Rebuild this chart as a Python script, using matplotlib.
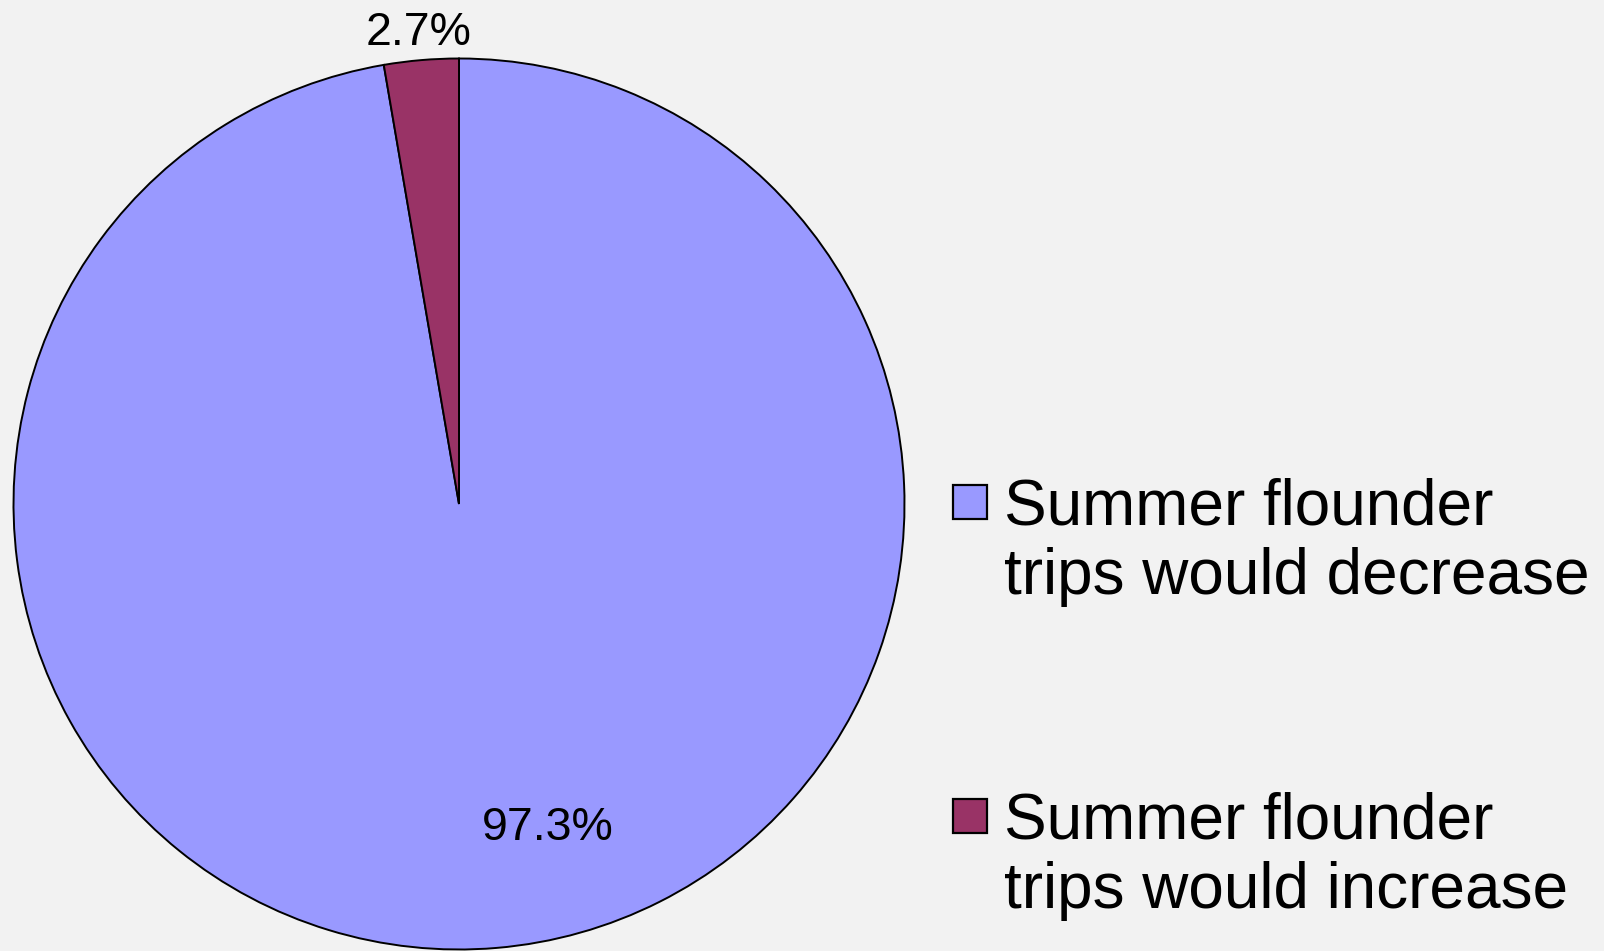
import matplotlib
matplotlib.use("Agg")
import matplotlib.pyplot as plt
from matplotlib.patches import Rectangle

categories = ["Summer flounder\ntrips would decrease", "Summer flounder\ntrips would increase"]
values = [97.3, 2.7]
pct_labels = ["97.3%", "2.7%"]
colors = ["#9999FF", "#993366"]

W, H, DPI = 1604, 951, 100
BG = "#F2F2F2"
plt.rcParams['font.family'] = ['Liberation Sans', 'DejaVu Sans']

fig = plt.figure(figsize=(W / DPI, H / DPI), dpi=DPI, facecolor=BG)
ax = fig.add_axes([0, 0, 1, 1])
ax.set_facecolor(BG)
ax.axis('off')

cx, cy, R = 459.0, 504.0, 445.5  # pixels from top-left
wedges, _ = ax.pie(values, colors=colors, startangle=90, counterclock=False,
                   radius=1.0, wedgeprops=dict(edgecolor='black', linewidth=1.4))
ax.set_xlim(-cx / R, (W - cx) / R)
ax.set_ylim(-(H - cy) / R, cy / R)
ax.set_aspect('auto')

def px(x, y):
    return ((x - cx) / R, (cy - y) / R)

# percentage labels
label_pos = [(548, 840), (419, 45)]
for lab, (x, y) in zip(pct_labels, label_pos):
    ax.text(*px(x, y), lab, ha='center', va='baseline', fontsize=33.5, color='black')

# legend (manual)
entry_y = [523, 837]
for cat, w, yb in zip(categories, wedges, entry_y):
    box_top = yb - 38
    fig.patches.append(Rectangle((953 / W, 1 - (box_top + 34) / H), 34 / W, 34 / H,
                                 transform=fig.transFigure, facecolor=w.get_facecolor(),
                                 edgecolor='black', linewidth=1.6))
    fig.text(1004 / W, 1 - (yb + 71) / H, cat, ha='left', va='baseline', fontsize=46,
             linespacing=1.2, color='black')

fig.savefig("out.png", dpi=DPI, facecolor=BG)
